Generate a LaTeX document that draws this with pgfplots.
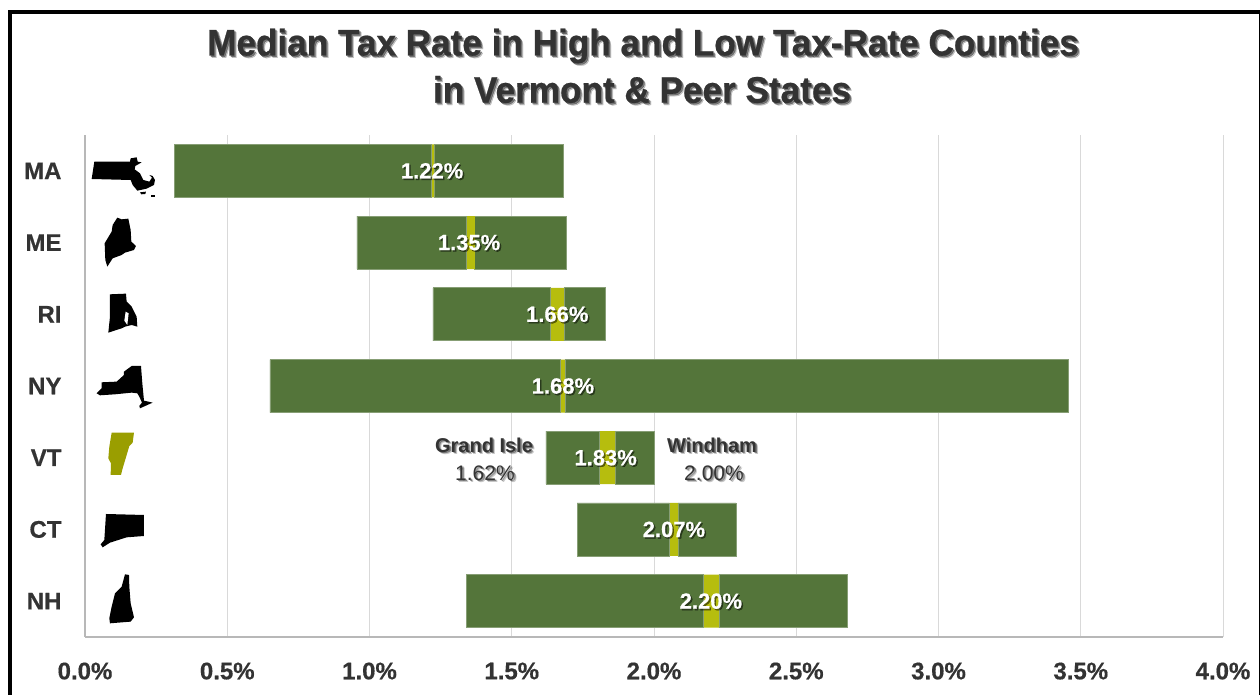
\documentclass[border=0pt]{standalone}
\usepackage{pgfplots}
\pgfplotsset{compat=1.18}
\usepackage{pgfplotstable}
\usepackage{fontspec}
\setmainfont{Liberation Sans}
\newfontfamily\headfont[FakeStretch=0.95,BoldFeatures={FakeBold=0.6}]{Liberation Sans}
\newfontfamily\heavyfont[BoldFeatures={FakeBold=0.5}]{Liberation Sans}
\definecolor{barGreen}{HTML}{54753A}
\definecolor{medianBand}{HTML}{B6BD0E}
\definecolor{vtOlive}{HTML}{9A9E00}
\definecolor{inkGray}{HTML}{333333}
\definecolor{gridGray}{HTML}{D9D9D9}

% low end of each range, then the three stacked spans: low to band, band, band to high
\pgfplotstableread{
row low  lead  band  tail
0   0.313 0.904 0.010 0.453
1   0.956 0.384 0.030 0.320
2   1.223 0.411 0.049 0.145
3   0.650 1.020 0.017 1.768
4   1.620 0.187 0.056 0.137
5   1.730 0.322 0.033 0.203
6   1.340 0.832 0.056 0.450
}\ranges

\pgfplotstableread{
row median label
0 1.22 1.22\%
1 1.35 1.35\%
2 1.66 1.66\%
3 1.68 1.68\%
4 1.83 1.83\%
5 2.07 2.07\%
6 2.20 2.20\%
}\medians

\newcommand{\shadowed}[5]{% position, font, text colour, shadow colour, text
  \node[text=#4, opacity=0.22, inner sep=0pt, font=#2] at ([xshift=2.4pt,yshift=-2.4pt]#1) {#5};
  \node[text=#4, opacity=0.4, inner sep=0pt, font=#2] at ([xshift=1.4pt,yshift=-1.4pt]#1) {#5};
  \node[text=#3, inner sep=0pt, font=#2] at (#1) {#5};
}

\begin{document}
\begin{tikzpicture}[x=1pt,y=1pt]
\path[use as bounding box] (0,0) rectangle (1260,694);
\fill[white] (0,0) rectangle (1260,694);

\begin{axis}[
  at={(85pt,57pt)}, anchor=south west,
  scale only axis, width=1138pt, height=502pt,
  xmin=0, xmax=4, ymin=-0.5, ymax=6.5, y dir=reverse,
  xbar stacked, bar width=53pt,
  axis x line*=bottom, axis y line*=left,
  axis line style={gridGray!85!black, line width=1.2pt, -},
  xmajorgrids, grid style={gridGray, line width=1pt},
  xtick={0,0.5,1,1.5,2,2.5,3,3.5,4},
  xticklabels={0.0\%,0.5\%,1.0\%,1.5\%,2.0\%,2.5\%,3.0\%,3.5\%,4.0\%},
  ytick={0,1,2,3,4,5,6},
  yticklabels={MA,ME,RI,NY,VT,CT,NH},
  tick style={draw=none},
  xticklabel style={font=\heavyfont\bfseries\fontsize{24}{24}\selectfont, text=inkGray, yshift=-22pt},
  yticklabel style={font=\heavyfont\bfseries\fontsize{24}{24}\selectfont, text=inkGray, xshift=-20pt},
]
\addplot[draw=none, fill=none] table[x=low, y=row] {\ranges};
\addplot[draw=barGreen!70!white, fill=barGreen, line width=0.6pt] table[x=lead, y=row] {\ranges};
\addplot[draw=none, fill=medianBand] table[x=band, y=row] {\ranges};
\addplot[draw=barGreen!70!white, fill=barGreen, line width=0.6pt] table[x=tail, y=row] {\ranges};
\end{axis}

\begin{axis}[
  at={(85pt,57pt)}, anchor=south west,
  scale only axis, width=1138pt, height=502pt,
  xmin=0, xmax=4, ymin=-0.5, ymax=6.5, y dir=reverse,
  hide axis, clip=false,
]
% median labels, with a soft dark copy underneath
\addplot[only marks, mark=none, point meta=explicit symbolic,
  nodes near coords, nodes near coords align={center},
  every node near coord/.style={text=black, opacity=0.5, font=\heavyfont\bfseries\fontsize{22}{22}\selectfont, xshift=1.5pt, yshift=-1.5pt, inner sep=0pt}]
  table[x=median, y=row, meta=label] {\medians};
\addplot[only marks, mark=none, point meta=explicit symbolic,
  nodes near coords, nodes near coords align={center},
  every node near coord/.style={text=white, font=\heavyfont\bfseries\fontsize{22}{22}\selectfont, inner sep=0pt}]
  table[x=median, y=row, meta=label] {\medians};
\end{axis}

% title
\shadowed{643,648}{\headfont\bfseries\fontsize{37}{37}\selectfont}{inkGray}{black}{Median Tax Rate in High and Low Tax-Rate Counties}
\shadowed{642,604.5}{\headfont\bfseries\fontsize{37}{37}\selectfont}{inkGray}{black}{in Vermont \& Peer States}

% end labels of the Vermont range
\shadowed{484,249}{\bfseries\fontsize{20}{20}\selectfont}{inkGray}{black}{Grand Isle}
\shadowed{485,221}{\fontsize{21}{21}\selectfont}{inkGray}{black}{1.62\%}
\shadowed{712,249}{\bfseries\fontsize{20}{20}\selectfont}{inkGray}{black}{Windham}
\shadowed{714,221}{\fontsize{21}{21}\selectfont}{inkGray}{black}{2.00\%}

% state outlines
\begin{scope}[x=0.3333pt,y=-0.3333pt,shift={(0pt,564pt)}]
\fill[black] (283,95)--(390,95)--(392,85)--(410,82)--(413,95)--(425,97)--(406,108)--(404,118)--(420,130)--(430,150)--(448,155)--(456,143)--(448,135)--(458,138)--(465,150)--(462,165)--(440,176)--(412,182)--(398,165)--(392,150)--(275,147)--cycle;
\fill[black] (420,187)--(438,185)--(436,192)--(424,193)--cycle;
\fill[black] (452,194)--(465,194)--(465,200)--(452,200)--cycle;
\fill[black] (352,263)--(365,268)--(385,266)--(392,300)--(394,335)--(408,348)--(402,360)--(375,368)--(365,375)--(338,385)--(322,410)--(316,390)--(314,340)--(335,305)--(338,285)--cycle;
\fill[black] (330,493)--(378,491)--(380,515)--(395,530)--(410,560)--(412,590)--(395,585)--(375,590)--(365,595)--(325,608)--(330,560)--cycle;
\fill[white] (377,545)--(386,550)--(382,585)--(373,572)--cycle;
\fill[black] (290,790)--(305,775)--(305,757)--(350,755)--(372,735)--(372,725)--(395,708)--(423,708)--(427,760)--(432,812)--(458,818)--(420,835)--(418,828)--(426,818)--(418,800)--(412,790)--(395,788)--(345,793)--(300,796)--cycle;
\end{scope}
\begin{scope}[x=0.3333pt,y=-0.3333pt,shift={(0pt,284pt)}]
\fill[vtOlive] (335,68)--(402,68)--(398,98)--(388,108)--(380,135)--(368,175)--(363,195)--(332,195)--(333,160)--(325,145)--(328,110)--cycle;
\fill[black] (318,312)--(432,315)--(432,378)--(380,382)--(330,398)--(308,412)--(302,403)--(313,390)--cycle;
\fill[black] (375,493)--(387,495)--(388,530)--(392,580)--(402,622)--(392,635)--(330,640)--(328,625)--(335,590)--(345,550)--(365,530)--cycle;
\end{scope}

% outer frame, running off the lower edge; the right side is cut by the page edge
\draw[black, line width=4pt] (9.5,-5)--(9.5,681.5)--(1270,681.5);
\draw[black, line width=1.6pt] (1259.4,-5)--(1259.4,683);
\end{tikzpicture}
\end{document}
